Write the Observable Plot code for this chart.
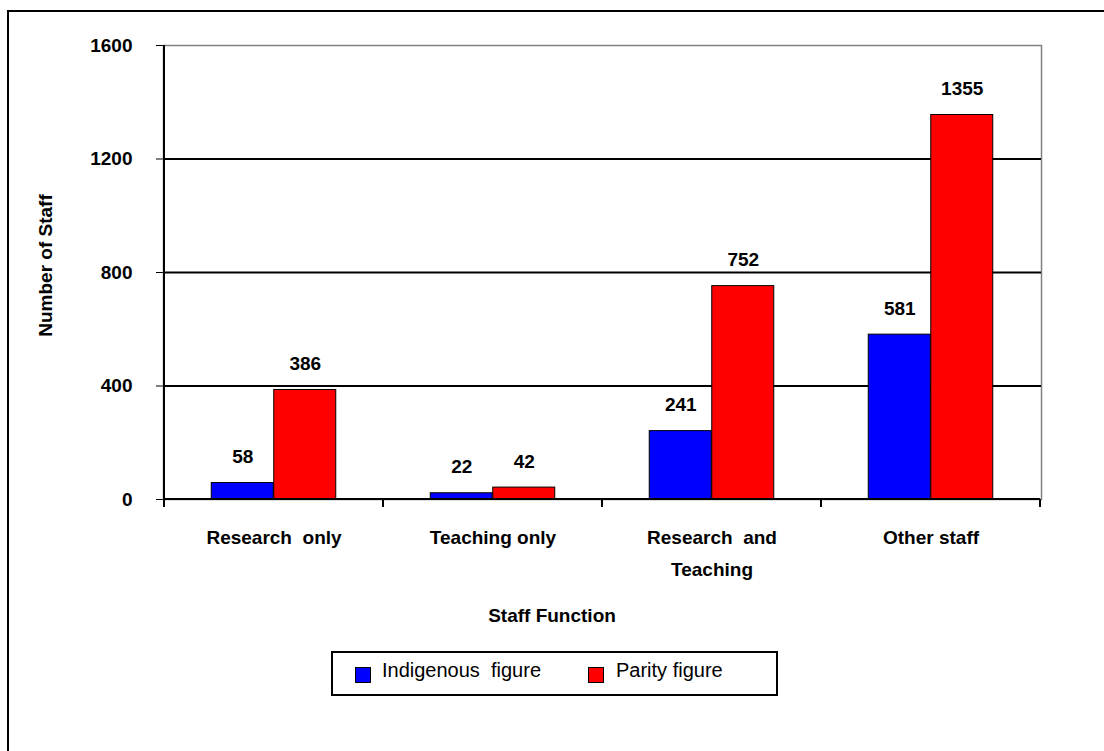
<!DOCTYPE html>
<html>
<head>
<meta charset="utf-8">
<script src="https://cdn.jsdelivr.net/npm/d3@7"></script>
<script src="https://cdn.jsdelivr.net/npm/@observablehq/plot@0.6"></script>
<style>
  html, body { margin: 0; padding: 0; background: #fff; width: 1104px; height: 751px; overflow: hidden; }
  body { position: relative; font-family: "Liberation Sans", Arial, sans-serif; color: #000; }
  #border { position: absolute; left: 7px; top: 10px; width: 1200px; height: 900px; border: 2px solid #000; }
  #chart { position: absolute; left: 0; top: 0; }
  #chart svg text { white-space: pre; }
  #xtitle { position: absolute; left: 452px; width: 200px; top: 604px; text-align: center; font-weight: bold; font-size: 19px; line-height: 24px; }
  #legend { position: absolute; left: 331px; top: 651px; width: 443px; height: 41px; border: 2px solid #000; background: #fff; }
  .sw { position: absolute; top: 14px; width: 14px; height: 14px; border: 1px solid #000; }
  .lt { position: absolute; top: 5px; font-size: 20px; line-height: 24px; white-space: pre; }
</style>
</head>
<body>
<div id="border"></div>
<div id="chart"></div>
<div id="xtitle">Staff Function</div>
<div id="legend">
  <div class="sw" style="left:22px;background:#0000ff"></div>
  <div class="lt" style="left:49px">Indigenous  figure</div>
  <div class="sw" style="left:255px;background:#ff0000"></div>
  <div class="lt" style="left:283px">Parity figure</div>
</div>
<script>
// ---- data ----
const categories = ["Research only", "Teaching only", "Research and Teaching", "Other staff"];
const categoryLabels = ["Research  only", "Teaching only", "Research  and\nTeaching", "Other staff"];
const indigenous = [58, 22, 241, 581];
const parity = [386, 42, 752, 1355];
const yTicks = [0, 400, 800, 1200, 1600];
const seriesNames = ["Indigenous figure", "Parity figure"];
const seriesColors = ["#0000ff", "#ff0000"];

// ---- layout ----
const W = 1104, H = 590;
const mL = 163, mR = 63, mT = 45, mB = 91;
const bandW = (W - mL - mR) / categories.length;
const barW = 62.5;

const rows = categories.map((c, i) => ({cat: c, label: categoryLabels[i], ind: indigenous[i], par: parity[i]}));

function axisLines(index, scales, values, dims) {
  const x = scales.x, y = scales.y;
  const bw = x.bandwidth ? x.bandwidth() : bandW;
  const edges = categories.map(c => x(c));
  edges.push(x(categories[categories.length - 1]) + bw);
  const y0 = y(0);
  const g = d3.create("svg:g").attr("stroke", "#000").attr("stroke-width", 2).attr("fill", "none");
  g.append("line").attr("x1", edges[0]).attr("x2", edges[0]).attr("y1", y(yTicks[yTicks.length - 1])).attr("y2", y0 + 1);
  g.append("line").attr("x1", edges[0]).attr("x2", edges[edges.length - 1]).attr("y1", y0).attr("y2", y0);
  for (const e of edges) {
    g.append("line").attr("x1", e).attr("x2", e).attr("y1", y0).attr("y2", y0 + 8);
  }
  return g.node();
}

const chart = Plot.plot({
  width: W,
  height: H,
  marginLeft: mL,
  marginRight: mR,
  marginTop: mT,
  marginBottom: mB,
  style: {fontFamily: "'Liberation Sans', Arial, sans-serif", fontSize: "19px", fontWeight: "bold", color: "#000", background: "transparent", overflow: "visible"},
  x: {domain: categories, padding: 0, axis: null},
  y: {domain: [0, 1600], ticks: yTicks, tickSize: 7, tickPadding: 24, label: null, tickFormat: d => String(d)},
  marks: [
    Plot.frame({stroke: "#808080", strokeWidth: 1.5}),
    Plot.ruleY(yTicks.slice(1, -1), {stroke: "#000", strokeWidth: 2}),
    Plot.barY(rows, {x: "cat", y: "ind", fill: seriesColors[0], stroke: "#000", strokeWidth: 1,
      insetLeft: bandW / 2 - barW, insetRight: bandW / 2}),
    Plot.barY(rows, {x: "cat", y: "par", fill: seriesColors[1], stroke: "#000", strokeWidth: 1,
      insetLeft: bandW / 2, insetRight: bandW / 2 - barW}),
    axisLines,
    Plot.text(rows, {x: "cat", y: "ind", text: d => String(d.ind), dx: -barW / 2, dy: -26, fill: "#000"}),
    Plot.text(rows, {x: "cat", y: "par", text: d => String(d.par), dx: barW / 2, dy: -26, fill: "#000"}),
    Plot.text(rows, {x: "cat", frameAnchor: "bottom", text: "label", lineAnchor: "top", dy: 22, lineHeight: 1.68, fill: "#000"}),
    Plot.text(["Number of Staff"], {frameAnchor: "left", textAnchor: "middle", rotate: -90, dx: -118, dy: -7, fill: "#000"})
  ]
});
document.getElementById("chart").appendChild(chart);
</script>
</body>
</html>
